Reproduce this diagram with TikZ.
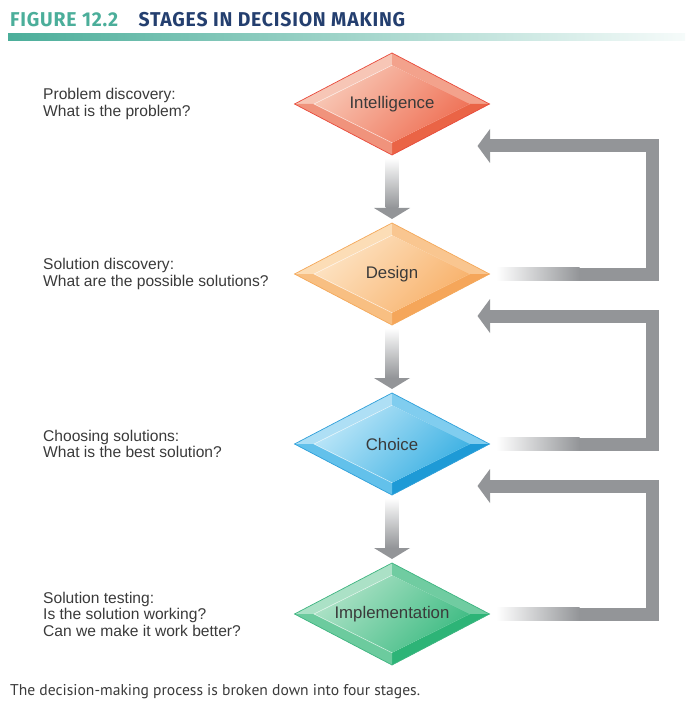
\documentclass[tikz,border=0pt]{standalone}
\usepackage{fontspec}
\setmainfont{Liberation Sans}
\newfontfamily\titlefont[FakeStretch=0.97,LetterSpace=4]{Fira Sans}
\newfontfamily\capfont{PT Sans}
\usetikzlibrary{shapes.geometric, positioning, calc, backgrounds}
\definecolor{arrowgray}{HTML}{939598}
\definecolor{textgray}{HTML}{3A3A3A}
\definecolor{figteal}{HTML}{4BAE9A}
\definecolor{fignavy}{HTML}{243F6F}
\definecolor{inteledge}{HTML}{E8493A}
\definecolor{inteltl}{HTML}{F7C6B6}
\definecolor{inteltr}{HTML}{F3A28C}
\definecolor{intelbl}{HTML}{F0937C}
\definecolor{intelbr}{HTML}{EA6446}
\definecolor{intelhi}{HTML}{F8C8B6}
\definecolor{intello}{HTML}{EF7156}
\definecolor{designedge}{HTML}{F4A859}
\definecolor{designtl}{HTML}{FCDDB6}
\definecolor{designtr}{HTML}{F9C690}
\definecolor{designbl}{HTML}{F8BF82}
\definecolor{designbr}{HTML}{F5A65A}
\definecolor{designhi}{HTML}{FDE3C3}
\definecolor{designlo}{HTML}{F8B26C}
\definecolor{choiceedge}{HTML}{2E9FD9}
\definecolor{choicetl}{HTML}{AEDFF5}
\definecolor{choicetr}{HTML}{80CDEF}
\definecolor{choicebl}{HTML}{63C1EB}
\definecolor{choicebr}{HTML}{1E9AD6}
\definecolor{choicehi}{HTML}{BCE6F8}
\definecolor{choicelo}{HTML}{3DB1E3}
\definecolor{impledge}{HTML}{3DB480}
\definecolor{impltl}{HTML}{ABE1C6}
\definecolor{impltr}{HTML}{70CCA1}
\definecolor{implbl}{HTML}{6CCB9E}
\definecolor{implbr}{HTML}{2DB477}
\definecolor{implhi}{HTML}{AEE2C7}
\definecolor{impllo}{HTML}{40BC84}
\tikzstyle{stage} = [diamond, aspect=1.9, minimum width=195pt, minimum height=102pt, inner sep=0pt, outer sep=0pt, text=textgray, font=\fontsize{16.8}{18}\selectfont]
\tikzstyle{question} = [anchor=west, inner sep=0pt, align=left, text=textgray, font=\fontsize{15.6}{16.5}\selectfont]
\tikzstyle{fignum} = [inner sep=0pt, text=figteal, font=\titlefont\bfseries\fontsize{20}{20}\selectfont]
\tikzstyle{figtitle} = [inner sep=0pt, text=fignavy, font=\titlefont\bfseries\fontsize{20}{20}\selectfont]
\tikzstyle{caption} = [inner sep=0pt, text=textgray, font=\capfont\fontsize{15.6}{18}\selectfont]
\tikzstyle{loopline} = [draw=arrowgray, line width=13pt, line join=miter]
\newcommand{\bevel}[2]{%
	\coordinate (#1-n) at ($(#1.center)!0.76!(#1.north)$);
	\coordinate (#1-s) at ($(#1.center)!0.76!(#1.south)$);
	\coordinate (#1-e) at ($(#1.center)!0.8!(#1.east)$);
	\coordinate (#1-w) at ($(#1.center)!0.8!(#1.west)$);
	\fill[#2tl] (#1.west) -- (#1.north) -- (#1-n) -- (#1-w) -- cycle;
	\fill[#2tr] (#1.north) -- (#1.east) -- (#1-e) -- (#1-n) -- cycle;
	\fill[#2br] (#1.east) -- (#1.south) -- (#1-s) -- (#1-e) -- cycle;
	\fill[#2bl] (#1.south) -- (#1.west) -- (#1-w) -- (#1-s) -- cycle;
	\shade[top color=#2hi, bottom color=#2lo, shading angle=45] (#1-w) -- (#1-n) -- (#1-e) -- (#1-s) -- cycle;
	\draw[white, opacity=0.6, line width=0.6pt] (#1-s) -- (#1-w) -- (#1-n);
	\draw[#2edge, line width=0.7pt] (#1.west) -- (#1.north) -- (#1.east) -- (#1.south) -- cycle;
}
\newcommand{\stagearrow}[2]{%
	\shade[top color=white, middle color=arrowgray!85, bottom color=arrowgray] ($(#1.south)+(-6.5,3)$) rectangle ($(#2.north)+(6.5,-15)$);
	\fill[arrowgray] ($(#2.north)+(-18,-15)$) -- ($(#2.north)+(18,-15)$) -- ($(#2.north)+(0,-4)$) -- cycle;
}
\newcommand{\loopback}[2]{%
	\coordinate (#1-r) at (#1.east -| rail);
	\coordinate (#1-t) at ($(#2.center)+(0,42)$);
	\coordinate (#1-c) at (rail |- #1-t);
	\coordinate (#1-h) at (#2.east |- #1-t);
	\shade[left color=white, right color=arrowgray] ($(#1.east)+(7,-6.5)$) rectangle ($(#1.east)+(90,6.5)$);
	\draw[loopline] ($(#1.east)+(89.5,0)$) -- (#1-r) -- (#1-c) -- (#1-h);
	\fill[arrowgray] ($(#1-h)+(0.5,-17)$) -- ($(#1-h)+(0.5,17)$) -- ($(#1-h)+(-12,0)$) -- cycle;
}

\begin{document}
\begin{tikzpicture}[x=1pt, y=-1pt, node distance=68pt]
	\useasboundingbox (0,0) rectangle (685,711);
	\node[fignum, anchor=base west] (fignum) at (10,27) {FIGURE 12.2};
	\node[figtitle, base right=20pt of fignum] (figtitle) {STAGES IN DECISION MAKING};
	\shade[left color=figteal, right color=figteal!5] (8,33.5) rectangle (685,40.5);

	\node[stage] (intel) at (392,104) {Intelligence};
	\node[stage, below=of intel] (design) {Design};
	\node[stage, below=of design] (choice) {Choice};
	\node[stage, below=of choice] (impl) {Implementation};
	\begin{scope}[on background layer]
		\bevel{intel}{intel}
		\bevel{design}{design}
		\bevel{choice}{choice}
		\bevel{impl}{impl}
	\end{scope}

	\node[question] (qintel) at (43,0 |- intel) {Problem discovery:\\What is the problem?};
	\node[question] (qdesign) at (43,0 |- design) {Solution discovery:\\What are the possible solutions?};
	\node[question] (qchoice) at (43,0 |- choice) {Choosing solutions:\\What is the best solution?};
	\node[question] (qimpl) at (43,0 |- impl) {Solution testing:\\Is the solution working?\\Can we make it work better?};

	\stagearrow{intel}{design}
	\stagearrow{design}{choice}
	\stagearrow{choice}{impl}

	\coordinate (rail) at (652.5,0);
	\loopback{design}{intel}
	\loopback{choice}{design}
	\loopback{impl}{choice}

	\node[caption, anchor=base west] (caption) at (10,695) {The decision-making process is broken down into four stages.};
\end{tikzpicture}
\end{document}
